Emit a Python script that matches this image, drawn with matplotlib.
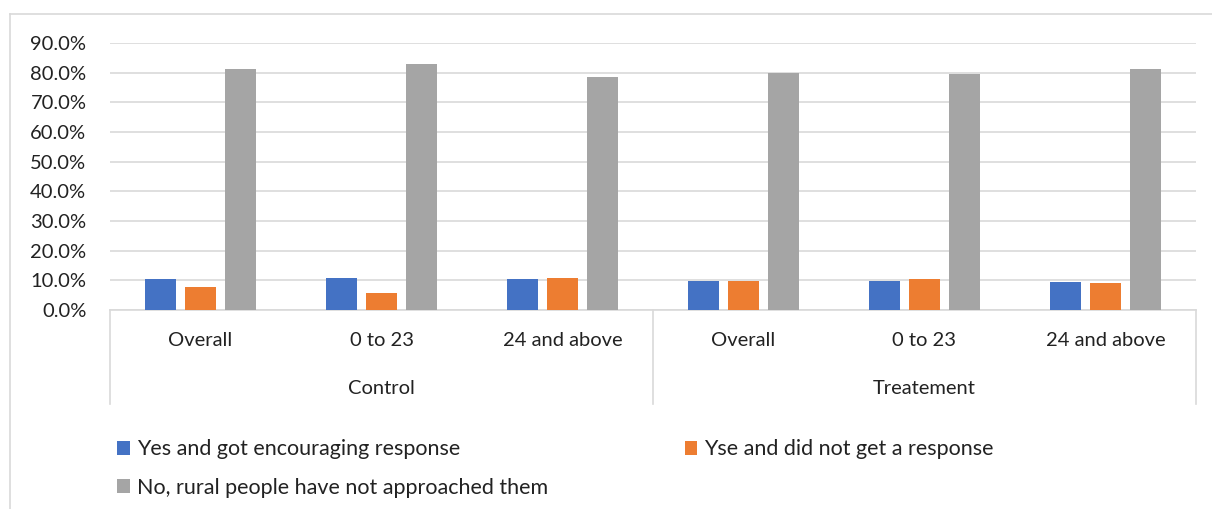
import numpy as np
import matplotlib
matplotlib.use('Agg')
import matplotlib.pyplot as plt
from matplotlib.lines import Line2D
from matplotlib.ticker import PercentFormatter

plt.rcParams['font.family'] = ['Lato', 'DejaVu Sans']

groups = ['Control', 'Treatement']
subgroups = ['Overall', '0 to 23', '24 and above']
series_names = ['Yes and got encouraging response',
                'Yse and did not get a response',
                'No, rural people have not approached them']
yes_encouraging = [10.5, 10.8, 10.3, 9.7, 9.8, 9.5]
yes_no_response = [7.9, 5.8, 10.9, 9.9, 10.4, 9.0]
not_approached = [81.1, 83.0, 78.4, 79.9, 79.5, 81.1]
colors = ['#4472C4', '#ED7D31', '#A5A5A5']

W, H = 1212, 509
fig = plt.figure(figsize=(W / 100, H / 100), dpi=100)
ax = fig.add_axes([110 / W, 1 - 310 / H, (1196 - 110) / W, (310 - 43) / H])

n_cat = len(groups) * len(subgroups)
x = np.arange(n_cat)
width = 0.172
step = 0.222
for i, (vals, col, name) in enumerate(zip([yes_encouraging, yes_no_response, not_approached],
                                            colors, series_names)):
    ax.bar(x + (i - 1) * step, np.array(vals) / 100, width=width, color=col,
           label=name, zorder=3)

ax.set_xlim(-0.5, n_cat - 0.5)
ax.set_ylim(0, 0.9)
ax.set_yticks(np.arange(0, 0.91, 0.1))
ax.yaxis.set_major_formatter(PercentFormatter(1.0, decimals=1))
ax.tick_params(axis='y', length=0, pad=17, labelsize=14.5, labelcolor='#222222')
ax.grid(axis='y', color='#d9d9d9', linewidth=1.2, zorder=0)
for s in ['top', 'right', 'left']:
    ax.spines[s].set_visible(False)
ax.spines['bottom'].set_color('#d9d9d9')
ax.spines['bottom'].set_linewidth(1.2)
ax.set_xticks([])

# category axis: subgroup labels, group labels, separators
ah = 310 - 43
for k in range(n_cat):
    ax.text((k + 0.5) / n_cat, -(341 - 310) / ah, subgroups[k % len(subgroups)],
            transform=ax.transAxes, ha='center', va='center', fontsize=14.5, color='#222222')
for g, name in enumerate(groups):
    ax.text((g + 0.5) / len(groups), -(388 - 310) / ah, name,
            transform=ax.transAxes, ha='center', va='center', fontsize=14.5, color='#222222')
for xs in [0, 0.5, 1]:
    ax.plot([xs, xs], [0, -(404 - 310) / ah], transform=ax.transAxes, color='#d9d9d9',
            linewidth=1.2, clip_on=False)

# chart border
fig.add_artist(Line2D([10 / W, 10 / W], [0, 1 - 14 / H], color='#d9d9d9', linewidth=1.2))
fig.add_artist(Line2D([10 / W, 1], [1 - 14 / H, 1 - 14 / H], color='#d9d9d9', linewidth=1.2))

handles, labels = ax.get_legend_handles_labels()
order = [0, 2, 1]
fig.legend([handles[i] for i in order], [labels[i] for i in order], ncol=2,
           loc='upper left', bbox_to_anchor=(98 / W, 1 - 420 / H), frameon=False,
           fontsize=15.5, handlelength=0.6, handleheight=0.6, handletextpad=0.3,
           columnspacing=6.35, labelspacing=0.85, labelcolor='#222222')

fig.savefig('out.png', dpi=100)
